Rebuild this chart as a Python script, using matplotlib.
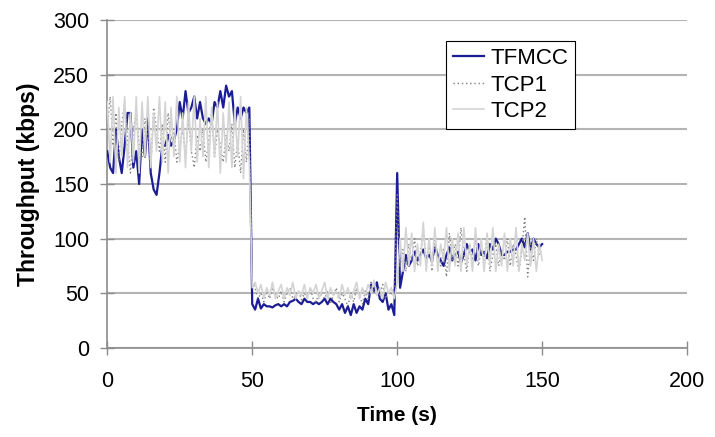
import numpy as np
import matplotlib.pyplot as plt

plt.rcParams['font.family'] = ['Liberation Sans', 'DejaVu Sans']

# sample times (s)
time = np.arange(0, 151)

tfmcc = [180, 165, 160, 200, 175, 160, 185, 215, 215, 165,
         180, 150, 200, 175, 210, 160, 145, 140, 160, 185,
         185, 195, 185, 190, 200, 225, 210, 235, 215, 220,
         230, 210, 225, 210, 205, 210, 205, 225, 220, 235,
         220, 240, 230, 235, 205, 220, 210, 220, 215, 220,
         40, 35, 45, 36, 40, 38, 38, 37, 39, 40,
         38, 40, 38, 42, 43, 45, 42, 40, 45, 42,
         42, 40, 42, 40, 42, 45, 40, 45, 42, 40,
         35, 40, 32, 38, 30, 40, 32, 38, 35, 45,
         40, 58, 52, 60, 45, 42, 50, 35, 40, 30,
         160, 55, 70, 85, 75, 80, 88, 80, 85, 90,
         82, 85, 80, 92, 85, 80, 75, 85, 92, 80,
         85, 88, 78, 85, 95, 88, 90, 80, 95, 85,
         88, 82, 95, 90, 100, 95, 85, 85, 88, 88,
         90, 90, 95, 100, 92, 105, 90, 100, 95, 92, 95]

tcp1 = [200, 230, 185, 215, 170, 205, 225, 190, 160, 200,
        215, 185, 175, 210, 195, 165, 220, 200, 180, 205,
        170, 215, 190, 200, 170, 185, 200, 175, 210, 180,
        165, 195, 180, 200, 170, 190, 215, 175, 200, 185,
        170, 195, 180, 205, 165, 190, 160, 200, 170, 210,
        60, 55, 45, 50, 42, 52, 45, 55, 48, 45,
        52, 42, 50, 55, 45, 48, 52, 44, 50, 46,
        55, 45, 42, 50, 48, 45, 52, 40, 48, 55,
        42, 50, 45, 38, 50, 42, 55, 48, 40, 52,
        45, 60, 50, 55, 48, 58, 45, 52, 48, 55,
        140, 75, 90, 70, 95, 80, 100, 75, 85, 110,
        80, 95, 70, 100, 85, 75, 90, 65, 105, 80,
        95, 75, 110, 85, 70, 95, 80, 100, 75, 90,
        80, 105, 70, 85, 95, 75, 90, 80, 100, 75,
        95, 85, 70, 90, 120, 65, 95, 80, 100, 85, 90]

tcp2 = [225, 170, 230, 160, 220, 175, 230, 165, 215, 170,
        230, 160, 225, 175, 230, 165, 215, 180, 230, 170,
        225, 160, 220, 175, 230, 170, 215, 165, 225, 180,
        230, 170, 210, 175, 230, 165, 220, 175, 225, 160,
        215, 170, 225, 165, 220, 175, 230, 155, 220, 170,
        55, 60, 50, 58, 45, 55, 48, 60, 45, 52,
        58, 45, 55, 48, 60, 45, 52, 48, 58, 45,
        55, 50, 58, 45, 52, 60, 45, 55, 48, 52,
        45, 58, 48, 55, 45, 52, 60, 45, 55, 48,
        58, 50, 62, 48, 55, 45, 60, 50, 55, 45,
        60, 100, 70, 110, 75, 105, 70, 95, 75, 115,
        70, 100, 75, 110, 70, 95, 80, 110, 70, 100,
        75, 105, 70, 110, 75, 95, 70, 110, 80, 100,
        70, 105, 75, 110, 70, 95, 75, 105, 70, 100,
        75, 110, 70, 95, 80, 105, 75, 100, 70, 95, 80]

fig = plt.figure(figsize=(7.15, 4.37), dpi=100)
ax = fig.add_axes([0.150, 0.204, 0.811, 0.750])

ax.plot(time, tfmcc, color='#1c1c94', lw=1.6, label='TFMCC', zorder=3)
ax.plot(time, tcp1, color='#7f7f7f', lw=1.0, ls=(0, (1, 2)), label='TCP1', zorder=4)
ax.plot(time, tcp2, color='#d4d4d4', lw=1.2, label='TCP2', zorder=4)

ax.set_xlim(0, 200)
ax.set_ylim(0, 300)
ax.set_xticks([0, 50, 100, 150, 200])
ax.set_yticks([0, 50, 100, 150, 200, 250, 300])
ax.yaxis.grid(True, color='#b4b4b4', lw=1.5)
ax.set_axisbelow(True)

for s in ['top', 'right']:
    ax.spines[s].set_visible(False)
for s in ['left', 'bottom']:
    ax.spines[s].set_color('#8c8c8c')
    ax.spines[s].set_linewidth(1.2)
ax.tick_params(direction='inout', length=10, color='#8c8c8c', width=1.0,
               labelsize=15.5)
ax.tick_params(axis='y', pad=8)
ax.tick_params(axis='x', pad=12)

ax.set_xlabel('Time (s)', fontsize=15, fontweight='bold', labelpad=10)
ax.set_ylabel('Throughput (kbps)', fontsize=16.5, fontweight='bold', labelpad=9)

leg = ax.legend(loc='upper left', bbox_to_anchor=(0.584, 0.935), fontsize=16,
                fancybox=False, framealpha=1, edgecolor='black',
                handlelength=1.4, handletextpad=0.3, borderpad=0.3,
                labelspacing=0.25, borderaxespad=0)
leg.get_frame().set_linewidth(0.8)

plt.savefig('out.png', dpi=100)
plt.close()
